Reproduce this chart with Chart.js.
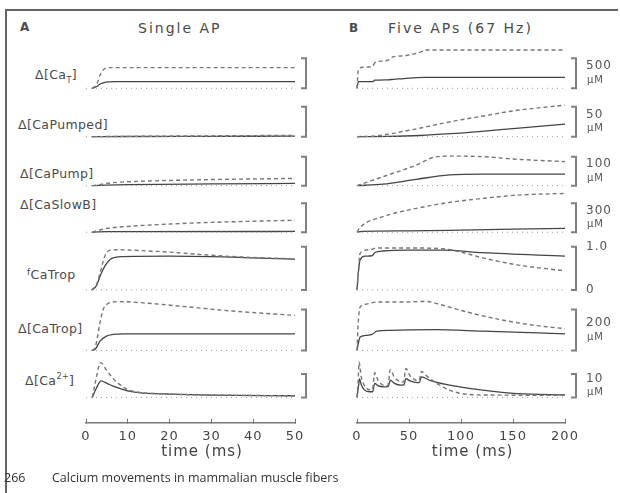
<!DOCTYPE html>
<html lang="en">
<head>
<meta charset="UTF-8">
<title>Calcium movements in mammalian muscle fibers</title>
<script src="https://cdn.jsdelivr.net/npm/chart.js"></script>
<style>
  body { margin: 0; background: #fff; }
  #fig { position: relative; width: 620px; height: 493px; overflow: hidden; font-family: "DejaVu Sans", sans-serif; color: #4a4a4a; }
  #fig canvas { position: absolute; top: 0; }
  .frame-top { position: absolute; left: 5px; top: 9px; width: 613px; height: 2px; background: #666; }
  .frame-left { position: absolute; left: 5px; top: 9px; width: 2px; height: 484px; background: #666; }
  .t { position: absolute; white-space: nowrap; transform: translateY(-50%); }
  .lbl { font-size: 12.5px; letter-spacing: 0.4px; }
  .lbl sub, .lbl sup { font-size: 8px; }
  .panel { font-size: 14px; letter-spacing: 2px; }
  .letter { font-size: 12px; font-weight: bold; }
  .foot { font-family: "Open Sans", sans-serif; font-size: 12.5px; color: #333; }
</style>
</head>
<body>
<div id="fig">
  <div class="frame-top"></div>
  <div class="frame-left"></div>

  <div class="t letter" style="left:20px; top:27px">A</div>
  <div class="t panel" style="left:138px; top:28px">Single AP</div>
  <div class="t letter" style="left:349px; top:28px">B</div>
  <div class="t panel" style="left:388px; top:28px">Five APs (67 Hz)</div>

  <div class="t lbl" style="left:35px; top:76px">&Delta;[Ca<sub>T</sub>]</div>
  <div class="t lbl" style="left:18px; top:124px">&Delta;[CaPumped]</div>
  <div class="t lbl" style="left:20px; top:173px">&Delta;[CaPump]</div>
  <div class="t lbl" style="left:20px; top:204px">&Delta;[CaSlowB]</div>
  <div class="t lbl" style="left:27px; top:274px"><span style="font-size:9px; position:relative; top:-4px">f</span>CaTrop</div>
  <div class="t lbl" style="left:18px; top:328px">&Delta;[CaTrop]</div>
  <div class="t lbl" style="left:25px; top:380px">&Delta;[Ca<sup>2+</sup>]</div>

  <canvas id="chartA" width="314" height="470" style="left:0"></canvas>
  <canvas id="chartB" width="310" height="470" style="left:310px"></canvas>

  <div class="t foot" style="left:4px; top:477px">266</div>
  <div class="t foot" style="left:52px; top:477px">Calcium movements in mammalian muscle fibers</div>
</div>

<script>
// values are [time (ms), value]; dashed and solid traces for each row
// Panel A: single AP
const aCaT_dashed = [[1.5,0],[2.5,60],[3.5,240],[4.5,330],[5.5,344],[50,344]];
const aCaT_solid = [[1.5,0],[2.5,25],[3.5,75],[4.5,100],[5.5,107],[7,110],[50,110]];
const aPumped_dashed = [[1.5,0],[10,0.5],[20,1],[30,1.4],[40,1.8],[50,2.2]];
const aPumped_solid = [[1.5,0],[10,0.3],[30,0.6],[50,0.9]];
const aPump_dashed = [[1.5,0],[3,3],[5,8],[8,12],[15,16],[30,21],[50,25]];
const aPump_solid = [[1.5,0],[3,1],[5,2],[10,3.5],[30,6],[50,8]];
const aSlowB_dashed = [[1.5,0],[3,20],[5,40],[10,60],[20,85],[30,102],[40,114],[50,124]];
const aSlowB_solid = [[1.5,0],[3,4],[5,6],[50,8]];
const aFTrop_dashed = [[1.3,0],[2.5,0.12],[3.4,0.4],[4.5,0.78],[5.7,0.92],[7,0.93],[15,0.9],[22,0.86],[30,0.8],[40,0.75],[50,0.72]];
const aFTrop_solid = [[1.5,0],[2.5,0.1],[3.5,0.35],[4.5,0.55],[5.7,0.7],[7,0.75],[8.5,0.77],[20,0.78],[30,0.77],[40,0.74],[50,0.71]];
const aTrop_dashed = [[1.5,0],[2.2,15],[3.35,135],[4.1,200],[5,225],[5.7,233],[8,238],[15,230],[22.5,216],[35,192],[50,171]];
const aTrop_solid = [[1.5,0],[2.2,5],[3.35,45],[4.9,70],[6.5,78],[9,81],[50,81]];
const aCa_dashed = [[1.5,0],[2.2,6],[3.5,14.8],[4.9,11.6],[6.5,8],[8.9,4.4],[11.3,2.6],[18.5,1.5],[30,1],[50,0.7]];
const aCa_solid = [[1.5,0],[2.5,4],[3.6,7],[5,6],[6.5,4.8],[10.5,2.6],[18.5,1.5],[30,1],[50,0.7]];

// Panel B: five APs at 67 Hz
const bCaT_dashed = [[0,0],[1.3,317],[6,350],[15,370],[17.3,428],[25,456],[30,470],[35,528],[45,540],[50,556],[57,583],[62,610],[66,639],[200,639]];
const bCaT_solid = [[0,0],[1.3,110],[15,112],[17.3,135],[30,142],[35,150],[45,160],[57,177],[66,183],[200,183]];
const bPumped_dashed = [[0,0],[15,1],[30,4],[45,9],[60,14],[90,25],[120,34],[150,43],[200,52.6]];
const bPumped_solid = [[0,0],[30,0.5],[60,2],[90,5],[120,9],[150,13.5],[200,20.8]];
const bPump_dashed = [[0,0],[25,31],[57,71],[73,97],[89,102],[121,100],[154,91],[200,83]];
const bPump_solid = [[0,0],[25,5],[57,22],[89,37],[121,40],[200,40]];
const bSlowB_dashed = [[0,0],[3,50],[25,161],[57,247],[89,309],[121,350],[154,384],[200,402]];
const bSlowB_solid = [[0,0],[5,8],[50,14],[100,22],[150,32],[200,40]];
const bFTrop_dashed = [[0,0],[1.5,0.5],[3,0.85],[12.5,0.93],[19,0.97],[50,0.97],[83,0.95],[99,0.88],[121,0.74],[154,0.58],[200,0.44]];
const bFTrop_solid = [[0,0],[1.5,0.45],[3,0.7],[8,0.78],[14.5,0.79],[17.6,0.87],[25,0.9],[50,0.92],[83,0.92],[121,0.86],[200,0.78]];
const bTrop_dashed = [[0,0],[1,120],[3,211],[8,225],[19,236],[41,236],[67,239],[77,228],[106,187],[138,150],[170,123],[200,106]];
const bTrop_solid = [[0,0],[1.5,40],[3,65],[8,73],[14.5,78],[19,94],[32,98],[74,101],[121,94],[200,81]];
const bCa_dashed = [[0,0],[1,6],[2,15],[4,9],[8,4.5],[14,3.2],[15,3.5],[17,10.5],[20,7.5],[24,5.5],[29,5],[30,5.5],[32,11.8],[36,8.5],[41,6.8],[44,6.5],[45,7],[47,12.3],[51,9.2],[57,7.3],[59,7.2],[60,7.5],[62,11],[66,9.5],[77,5.9],[89,3.1],[106,1.3],[130,1],[200,0.9]];
const bCa_solid = [[0,0],[1.5,5],[2.5,8],[4,5.5],[7,3.2],[12,2.4],[15,2.4],[17,6],[20,5],[26,4.5],[30,4.6],[32,7.3],[36,6],[42,5.2],[45,5.3],[47,8],[51,7],[58,6.3],[60,6.4],[62,8.7],[70,7.3],[89,5.2],[121,3.1],[154,1.6],[200,1.1]];

// scale bars (same for both panels)
const barValues = [500, 50, 100, 300, 1.0, 200, 10];
const barLabels = ['500', '50', '100', '300', '1.0', '200', '10'];
const barUnits = ['\u00b5M', '\u00b5M', '\u00b5M', '\u00b5M', '', '\u00b5M', '\u00b5M'];

// vertical band of each row (stack weight = pixel height) and its value range
const rowAxes = [
  { weight: 52, min: -145, max: 722 },
  { weight: 49, min: -15.5, max: 66.2 },
  { weight: 45, min: -18.3, max: 136.9 },
  { weight: 49, min: -79.7, max: 427.2 },
  { weight: 58, min: -0.185, max: 1.155 },
  { weight: 60, min: -36.6, max: 256.1 },
  { weight: 65, min: -10.85, max: 16.81 }
];

const rowsA = [
  [aCaT_dashed, aCaT_solid], [aPumped_dashed, aPumped_solid], [aPump_dashed, aPump_solid],
  [aSlowB_dashed, aSlowB_solid], [aFTrop_dashed, aFTrop_solid], [aTrop_dashed, aTrop_solid], [aCa_dashed, aCa_solid]
];
const rowsB = [
  [bCaT_dashed, bCaT_solid], [bPumped_dashed, bPumped_solid], [bPump_dashed, bPump_solid],
  [bSlowB_dashed, bSlowB_solid], [bFTrop_dashed, bFTrop_solid], [bTrop_dashed, bTrop_solid], [bCa_dashed, bCa_solid]
];

const toXY = pts => pts.map(p => ({ x: p[0], y: p[1] }));

const spacing = {
  id: 'spacing',
  beforeDraw(chart) { chart.ctx.letterSpacing = '1px'; }
};

const scaleBars = {
  id: 'scaleBars',
  afterDraw(chart, args, opts) {
    const ctx = chart.ctx;
    const x = chart.chartArea.right + 11;
    ctx.save();
    barValues.forEach((v, i) => {
      const sc = chart.scales['r' + i];
      const y0 = sc.getPixelForValue(0);
      const y1 = sc.getPixelForValue(v);
      ctx.strokeStyle = '#808080';
      ctx.lineWidth = 2;
      ctx.beginPath();
      ctx.moveTo(x - 5, y1);
      ctx.lineTo(x, y1);
      ctx.lineTo(x, y0);
      ctx.lineTo(x - 5, y0);
      ctx.stroke();
      if (!opts.text) return;
      ctx.fillStyle = '#555';
      ctx.textAlign = 'left';
      ctx.textBaseline = 'middle';
      if (barUnits[i]) {
        const mid = (y0 + y1) / 2;
        ctx.font = '12px "DejaVu Sans"';
        ctx.fillText(barLabels[i], x + 10, mid - 7);
        ctx.font = '10px "DejaVu Sans"';
        ctx.fillText(barUnits[i], x + 11, mid + 7);
      } else {
        ctx.font = '12px "DejaVu Sans"';
        ctx.fillText(barLabels[i], x + 10, y1);
        ctx.fillText('0', x + 10, y0);
      }
    });
    ctx.restore();
  }
};

function buildChart(id, rows, xMax, xStep, padLeft, padRight, withText) {
  const datasets = [];
  const scales = {
    x: {
      type: 'linear', min: 0, max: xMax,
      // negative tick length so the tick marks point up into the plot, as in the figure
      ticks: { stepSize: xStep, color: '#444', padding: 10, maxRotation: 0, font: { family: 'DejaVu Sans', size: 13 } },
      grid: { drawOnChartArea: false, tickLength: -4, color: '#777' },
      border: { color: '#777', width: 1.5 },
      title: { display: true, text: '    time (ms)', color: '#444', padding: { top: -11, bottom: 0 }, font: { family: 'DejaVu Sans', size: 15 } }
    }
  };
  rowAxes.forEach((ax, i) => {
    scales['r' + i] = { type: 'linear', position: 'right', stack: 'rows', stackWeight: ax.weight, min: ax.min, max: ax.max, display: false };
    datasets.push({ data: [{ x: 0, y: 0 }, { x: xMax, y: 0 }], yAxisID: 'r' + i, borderColor: '#9a9a9a', borderWidth: 1, borderDash: [1, 4] });
    datasets.push({ data: toXY(rows[i][0]), yAxisID: 'r' + i, borderColor: '#777', borderWidth: 1.4, borderDash: [4, 3] });
    datasets.push({ data: toXY(rows[i][1]), yAxisID: 'r' + i, borderColor: '#444', borderWidth: 1.3 });
  });
  return new Chart(document.getElementById(id), {
    type: 'line',
    data: { datasets },
    options: {
      responsive: false,
      animation: false,
      clip: false,
      layout: { padding: { left: padLeft, right: padRight, top: 45, bottom: 8.5 } },
      elements: { point: { radius: 0 }, line: { cubicInterpolationMode: 'monotone', fill: false } },
      plugins: { legend: { display: false }, tooltip: { enabled: false }, scaleBars: { text: withText } },
      scales
    },
    plugins: [spacing, scaleBars]
  });
}

buildChart('chartA', rowsA, 50, 10, 86, 19, false);
buildChart('chartB', rowsB, 200, 50, 47, 55, true);
</script>
</body>
</html>
